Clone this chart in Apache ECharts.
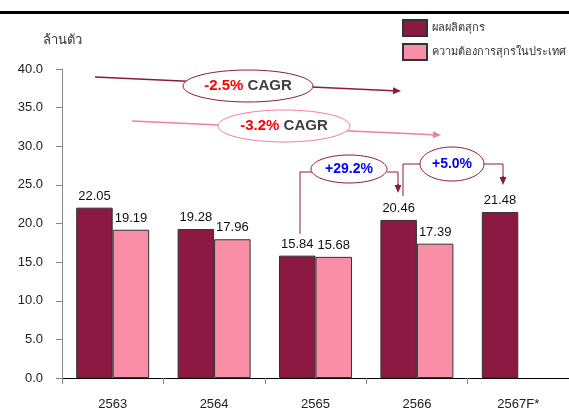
<!DOCTYPE html>
<html>
<head>
<meta charset="utf-8">
<script src="https://cdn.jsdelivr.net/npm/echarts@6/dist/echarts.min.js"></script>
<style>
  html, body { margin: 0; padding: 0; background: #fff; }
  #chart { width: 569px; height: 418px; }
</style>
</head>
<body>
<div id="chart"></div>
<script>
var years = ["2563", "2564", "2565", "2566", "2567F*"];
var production = [22.05, 19.28, 15.84, 20.46, 21.48];
var demand = [19.19, 17.96, 15.68, 17.39, null];
var seriesNames = ["ผลผลิตสุกร", "ความต้องการสุกรในประเทศ"];

var FONT = "'Liberation Sans', Arial, sans-serif";
var DARK = "#8c1942";
var PINK = "#f98fa6";
var PINK_LINE = "#f27f9b";

// arrow = line + small head
function arrow(x1, y1, x2, y2, color) {
  var a = Math.atan2(y2 - y1, x2 - x1);
  var len = 8, w = 3.5;
  var bx = x2 - len * Math.cos(a), by = y2 - len * Math.sin(a);
  return [
    { type: "line", z: 10, shape: { x1: x1, y1: y1, x2: bx, y2: by }, style: { stroke: color, lineWidth: 1.5 } },
    { type: "polygon", z: 10, shape: { points: [[x2, y2], [bx - w * Math.sin(a), by + w * Math.cos(a)], [bx + w * Math.sin(a), by - w * Math.cos(a)]] }, style: { fill: color } }
  ];
}
function bubble(cx, cy, rx, ry, color, text, rich) {
  return [
    { type: "ellipse", z: 11, shape: { cx: cx, cy: cy, rx: rx, ry: ry }, style: { fill: "#fff", stroke: color, lineWidth: 1 } },
    { type: "text", z: 12, x: cx, y: cy, style: { text: text, rich: rich, align: "center", verticalAlign: "middle", font: "bold 15px " + FONT } }
  ];
}
function path(points, color) {
  return { type: "polyline", z: 10, shape: { points: points }, style: { stroke: color, lineWidth: 1, fill: null } };
}

var cagrRich = {
  r: { fill: "#ff0000", fontWeight: "bold", fontSize: 15, fontFamily: FONT },
  g: { fill: "#404040", fontWeight: "bold", fontSize: 15, fontFamily: FONT }
};
var growRich = {
  b: { fill: "#0000ff", fontWeight: "bold", fontSize: 14, fontFamily: FONT }
};

var graphics = [
  { type: "rect", shape: { x: 0, y: 11, width: 569, height: 3 }, style: { fill: "#000" } }
];
graphics = graphics
  .concat(arrow(95, 77, 401, 91, DARK))
  .concat(bubble(248, 86, 65, 16, DARK, "{r|-2.5%} {g|CAGR}", cagrRich))
  .concat(arrow(132, 121, 441, 135, PINK_LINE))
  .concat(bubble(284, 126, 66, 16, PINK_LINE, "{r|-3.2%} {g|CAGR}", cagrRich))
  .concat([path([[300, 234], [300, 172], [312, 172]], DARK), path([[387, 172], [398, 172], [398, 186]], DARK)])
  .concat(arrow(398, 184, 398, 193, DARK))
  .concat(bubble(349, 169, 38, 14, DARK, "{b|+29.2%}", growRich))
  .concat([path([[403, 196], [403, 164], [421, 164]], DARK), path([[482, 164], [503, 164], [503, 178]], DARK)])
  .concat(arrow(503, 176, 503, 185, DARK))
  .concat(bubble(452, 164, 32, 17, DARK, "{b|+5.0%}", growRich));

var chart = echarts.init(document.getElementById("chart"));
var option = {
  animation: false,
  textStyle: { fontFamily: FONT },
  grid: { left: 62, top: 69, width: 512, height: 309, containLabel: false },
  legend: {
    orient: "vertical",
    left: 402,
    top: 19,
    padding: 0,
    icon: "rect",
    itemWidth: 24,
    itemHeight: 16,
    itemGap: 6,
    textStyle: { fontSize: 11, color: "#333", fontFamily: FONT },
    data: seriesNames
  },
  xAxis: {
    type: "category",
    data: years,
    axisLine: { lineStyle: { color: "#000", width: 1 } },
    axisTick: { show: true, length: 6, lineStyle: { color: "#888" } },
    axisLabel: { fontSize: 13, color: "#222", margin: 20, fontFamily: FONT },
    splitLine: { show: false }
  },
  yAxis: {
    type: "value",
    min: 0,
    max: 40,
    interval: 5,
    name: "ล้านตัว",
    nameLocation: "end",
    nameGap: 22,
    nameTextStyle: { fontSize: 13, color: "#333", align: "center", fontFamily: FONT },
    axisLine: { show: true, lineStyle: { color: "#888" } },
    axisTick: { show: true, length: 6, lineStyle: { color: "#888" } },
    axisLabel: { fontSize: 13, color: "#222", margin: 19, fontFamily: FONT, formatter: function (v) { return v.toFixed(1); } },
    splitLine: { show: false }
  },
  series: [
    {
      name: seriesNames[0],
      type: "bar",
      data: production,
      barGap: "0%",
      barCategoryGap: "28%",
      itemStyle: { color: DARK, borderColor: "#333", borderWidth: 1 },
      label: { show: true, position: "top", distance: 5, fontSize: 13, color: "#111", fontFamily: FONT, formatter: function (p) { return p.value.toFixed(2); } }
    },
    {
      name: seriesNames[1],
      type: "bar",
      data: demand,
      itemStyle: { color: PINK, borderColor: "#333", borderWidth: 1 },
      label: { show: true, position: "top", distance: 5, fontSize: 13, color: "#111", fontFamily: FONT, formatter: function (p) { return p.value.toFixed(2); } }
    }
  ],
  graphic: graphics
};
chart.setOption(option);
</script>
</body>
</html>
